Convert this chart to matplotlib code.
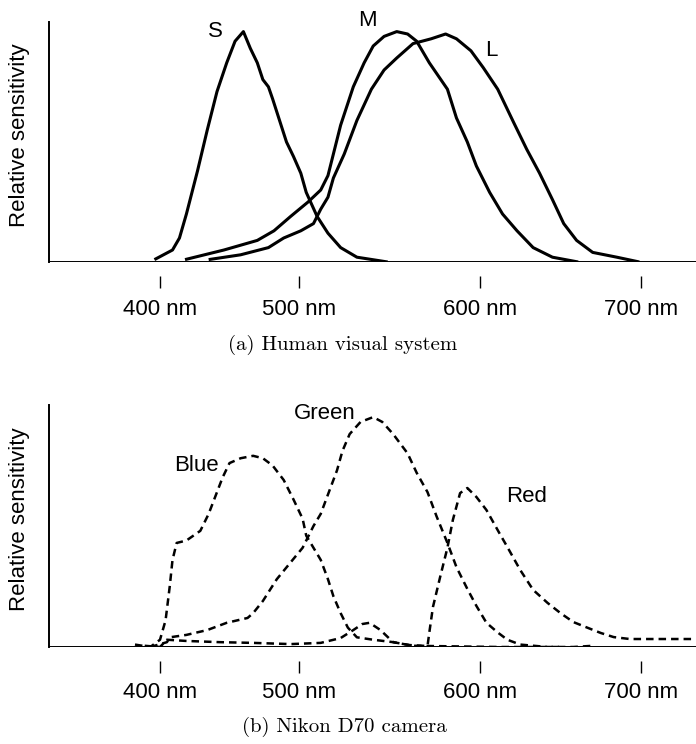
import numpy as np
import matplotlib
matplotlib.use("Agg")
import matplotlib.pyplot as plt

# wavelength (nm) / relative sensitivity
s_nm = [396, 409, 414, 419, 427, 434, 441, 448, 454, 460, 465, 470, 474, 478, 481,
        486, 491, 496, 501, 504, 510, 516, 523, 532, 549]
s_val = [0.01, 0.05, 0.10, 0.20, 0.38, 0.55, 0.71, 0.83, 0.92, 0.96, 0.89, 0.83,
         0.76, 0.73, 0.68, 0.59, 0.50, 0.44, 0.37, 0.29, 0.19, 0.12, 0.06, 0.02, 0.0]

m_nm = [418, 446, 470, 482, 494, 505, 512, 516, 519, 523, 530, 536, 541, 547, 554,
        560, 565, 572, 582, 587, 593, 598, 606, 614, 623, 633, 645, 661]
m_val = [0.01, 0.05, 0.09, 0.13, 0.19, 0.25, 0.30, 0.36, 0.45, 0.57, 0.73, 0.83,
         0.90, 0.94, 0.96, 0.95, 0.92, 0.83, 0.72, 0.60, 0.50, 0.40, 0.29, 0.20,
         0.13, 0.06, 0.02, 0.0]

l_nm = [435, 458, 478, 489, 501, 508, 512, 516, 519, 525, 532, 540, 547, 554, 563,
        573, 581, 587, 595, 602, 611, 621, 629, 637, 645, 652, 660, 670, 685, 699]
l_val = [0.01, 0.03, 0.06, 0.10, 0.13, 0.16, 0.22, 0.27, 0.35, 0.45, 0.59, 0.72,
         0.80, 0.85, 0.91, 0.93, 0.95, 0.93, 0.88, 0.81, 0.72, 0.58, 0.47, 0.37,
         0.26, 0.16, 0.09, 0.04, 0.02, 0.0]

blue_nm = [382, 393, 400, 404, 407, 409, 412, 419, 429, 435, 441, 445, 450, 458,
           467, 474, 481, 489, 496, 502, 504, 508, 512, 516, 519, 523, 527, 532,
           541, 552, 563, 612, 650]
blue_val = [0.01, 0.0, 0.03, 0.11, 0.25, 0.36, 0.43, 0.44, 0.48, 0.55, 0.64, 0.70,
            0.76, 0.78, 0.79, 0.78, 0.75, 0.69, 0.61, 0.53, 0.46, 0.41, 0.36,
            0.28, 0.21, 0.14, 0.08, 0.04, 0.03, 0.02, 0.005, 0.0, 0.0]

green_nm = [393, 405, 407, 419, 434, 448, 463, 467, 474, 484, 494, 502, 508, 512,
            517, 521, 524, 528, 534, 541, 546, 552, 560, 565, 571, 576, 582, 587,
            593, 598, 604, 611, 617, 625, 642, 658, 670]
green_val = [0.0, 0.02, 0.04, 0.05, 0.07, 0.10, 0.12, 0.14, 0.19, 0.28, 0.35, 0.41,
             0.50, 0.55, 0.65, 0.73, 0.81, 0.88, 0.93, 0.95, 0.93, 0.88, 0.80,
             0.72, 0.64, 0.54, 0.43, 0.33, 0.24, 0.17, 0.10, 0.06, 0.03, 0.01,
             0.0, 0.0, 0.005]

red_nm = [389, 400, 405, 419, 443, 467, 494, 512, 523, 530, 535, 539, 545, 552,
          561, 571, 572, 574, 578, 582, 585, 589, 593, 598, 604, 612, 617, 625,
          633, 642, 650, 658, 667, 675, 683, 693, 708, 732]
red_val = [0.005, 0.0, 0.03, 0.025, 0.02, 0.017, 0.012, 0.017, 0.037, 0.07, 0.095,
           0.10, 0.07, 0.02, 0.008, 0.004, 0.06, 0.165, 0.29, 0.41, 0.525, 0.636,
           0.657, 0.62, 0.566, 0.471, 0.413, 0.318, 0.236, 0.182, 0.14, 0.103,
           0.079, 0.058, 0.041, 0.033, 0.033, 0.033]

tick_nm = [400, 500, 600, 700]
tick_labels = ["400 nm", "500 nm", "600 nm", "700 nm"]

# the original drawing spaces the ticks unevenly -> piecewise linear axis
knot_nm = np.array([0, 400, 500, 600, 700, 1000])
knot_pos = np.array([-396, 160, 299, 480, 641, 1124])


def fwd(x):
    return np.interp(x, knot_nm, knot_pos)


def inv(p):
    return np.interp(p, knot_pos, knot_nm)


sans = "Liberation Sans"
W, H = 696, 744
fig = plt.figure(figsize=(W / 100, H / 100), dpi=100)


def make_axes(top_px, bottom_px, pad):
    ax = fig.add_axes([49 / W, 1 - bottom_px / H, (W - 49) / W, (bottom_px - top_px) / H])
    ax.set_xscale("function", functions=(fwd, inv))
    ax.set_xlim(inv(49), inv(W))
    ax.set_ylim(0, 1)
    for side in ["top", "right"]:
        ax.spines[side].set_visible(False)
    ax.spines["bottom"].set_position(("outward", 10))
    ax.spines["bottom"].set_visible(False)
    ax.spines["left"].set_linewidth(1.4)
    ax.axhline(0, color="black", lw=1.4)
    ax.set_yticks([])
    ax.set_xticks(tick_nm)
    ax.set_xticklabels(tick_labels, fontfamily=sans, fontsize=16)
    ax.tick_params(axis="x", direction="out", length=8.5, width=1.0, pad=pad)
    ax.minorticks_off()
    ax.text(-0.045, 0.53, "Relative sensitivity", transform=ax.transAxes,
            rotation=90, ha="center", va="center", fontfamily=sans, fontsize=16)
    return ax


# (a) human cones
ax1 = make_axes(22, 262, 8)
for xs, ys in [(s_nm, s_val), (m_nm, m_val), (l_nm, l_val)]:
    ax1.plot(xs, ys, color="black", lw=2.2, solid_capstyle="butt")
ax1.text(440, 0.962, "S", ha="center", va="center", fontfamily=sans, fontsize=16)
ax1.text(538, 1.008, "M", ha="center", va="center", fontfamily=sans, fontsize=16)
ax1.text(607, 0.883, "L", ha="center", va="center", fontfamily=sans, fontsize=16)

# (b) camera
ax2 = make_axes(405, 647, 7)
for xs, ys in [(blue_nm, blue_val), (green_nm, green_val), (red_nm, red_val)]:
    ax2.plot(xs, ys, color="black", lw=1.8, linestyle=(0, (3, 2)))
ax2.text(426, 0.752, "Blue", ha="center", va="center", fontfamily=sans, fontsize=16)
ax2.text(514, 0.963, "Green", ha="center", va="center", fontfamily=sans, fontsize=16)
ax2.text(629, 0.62, "Red", ha="center", va="center", fontfamily=sans, fontsize=16)

fig.text(343 / W, 1 - 345 / H, "(a) Human visual system", ha="center", va="center",
         fontfamily="cmr10", fontsize=15)
fig.text(344 / W, 1 - 727 / H, "(b) Nikon D70 camera", ha="center", va="center",
         fontfamily="cmr10", fontsize=15)

fig.savefig("out.png", dpi=100)
